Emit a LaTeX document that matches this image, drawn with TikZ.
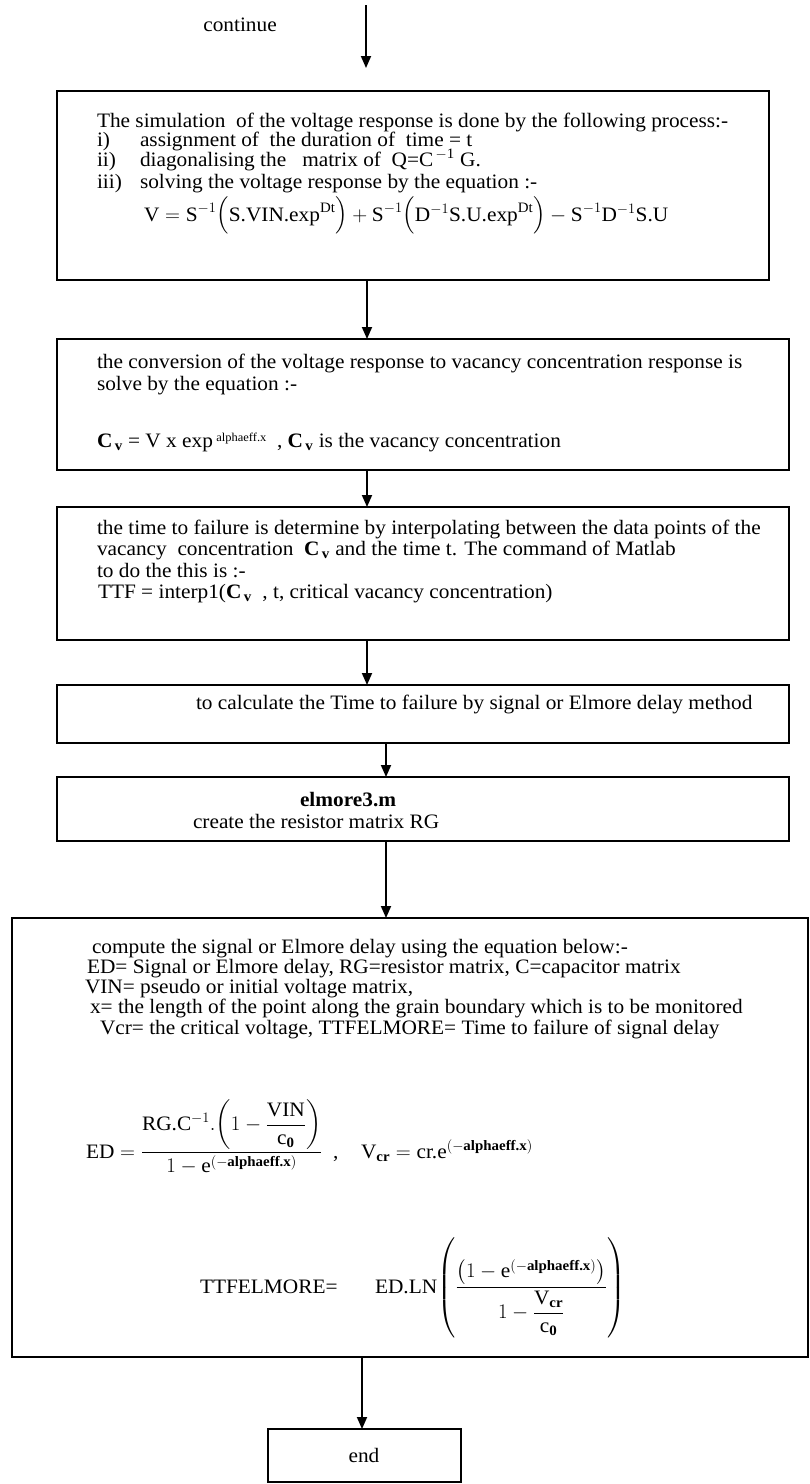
\documentclass[tikz,border=0pt]{standalone}
\usepackage{amsmath}
\usepackage{fontspec}
\setmainfont{Liberation Serif}[FakeStretch=1.04]
\usetikzlibrary{arrows.meta}
\newcommand{\tx}[1]{\text{#1}}
\newcommand{\bx}[1]{\text{\bfseries #1}}
\newcommand{\Cv}{\textbf{C}\textsubscript{\,\textbf{v}}}
\begin{document}
\fontsize{20.5}{22}\selectfont
\begin{tikzpicture}[x=1pt,y=-1pt,
  every node/.style={inner sep=0pt, outer sep=0pt},
  box/.style={draw, line width=2.2pt, anchor=north west},
  txt/.style={anchor=base west, font=\fontsize{20.5}{22}\selectfont},
  eqn/.style={anchor=base west, font=\fontsize{20.5}{22}\selectfont},
  flow/.style={line width=1.8pt, -{Triangle[length=12pt,width=10pt]}}]
\fill[white] (0,0) rectangle (809,1484);
\useasboundingbox (0,0) rectangle (809,1484);

% entry
\node[txt, anchor=base] (cont) at (240,31) {continue};
\coordinate (inTop) at (366,5);
\coordinate (inEnd) at (366,68);
\draw[flow] (inTop) -- (inEnd);

% process boxes
\node[box, minimum width=712pt, minimum height=189pt] (b1) at (57,91) {};
\node[box, minimum width=732pt, minimum height=131pt] (b2) at (57,339) {};
\node[box, minimum width=732pt, minimum height=133pt] (b3) at (57,507) {};
\node[box, minimum width=732pt, minimum height=58pt] (b4) at (57,685) {};
\node[box, minimum width=732pt, minimum height=64pt] (b5) at (57,777) {};
\node[box, minimum width=796pt, minimum height=439pt] (b6) at (12,918) {};
\node[box, minimum width=193pt, minimum height=53pt] (b7) at (268,1429) {};

% box 1: simulation
\node[txt] (s0) at (97,127) {The simulation\ \ of the voltage response is done by the following process:-};
\node[txt] (s1n) at (97,146) {i)};
\node[txt] (s1) at (140,146) {assignment of\ \ the duration of\ \ time = t};
\node[txt] (s2n) at (97,166) {ii)};
\node[txt] (s2) at (140,166) {diagonalising the\ \ \ matrix of\ \ Q=C\textsuperscript{\,$-$1} G.};
\node[txt] (s3n) at (97,188) {iii)};
\node[txt] (s3) at (140,188) {solving the voltage response by the equation :-};
\node[eqn] (s4) at (144,221) {$\tx{V} = \tx{S}^{-1}\Bigl(\tx{S.VIN.exp}^{\tx{Dt}}\Bigr) + \tx{S}^{-1}\Bigl(\tx{D}^{-1}\tx{S.U.exp}^{\tx{Dt}}\Bigr) - \tx{S}^{-1}\tx{D}^{-1}\tx{S.U}$};

% box 2: conversion
\node[txt] (c1) at (97,368) {the conversion of the voltage response to vacancy concentration response is};
\node[txt] (c2) at (97,390) {solve by the equation :-};
\node[txt] (c3) at (97,447) {\Cv{} = V x exp\,\raisebox{6pt}{\fontsize{12}{12}\selectfont alphaeff.x}\ \ , \Cv{} is the vacancy concentration};

% box 3: time to failure
\node[txt] (t1) at (97,534) {the time to failure is determine by interpolating between the data points of the};
\node[txt] (t2) at (97,555) {vacancy\ \ concentration\ \ \Cv{} and the time t. The command of Matlab};
\node[txt] (t3) at (97,577) {to do the this is :-};
\node[txt] (t4) at (98,598) {TTF = interp1(\Cv{}\ \ , t, critical vacancy concentration)};

% box 4
\node[txt] (m1) at (196,709) {to calculate the Time to failure by signal or Elmore delay method};

% box 5
\node[txt] (e1) at (300,806) {\textbf{elmore3.m}};
\node[txt] (e2) at (193,828) {create the resistor matrix RG};

% box 6: Elmore delay
\node[txt] (d1) at (92,953) {compute the signal or Elmore delay using the equation below:-};
\node[txt] (d2) at (87,973) {ED= Signal or Elmore delay, RG=resistor matrix, C=capacitor matrix};
\node[txt] (d3) at (85,993) {VIN= pseudo or initial voltage matrix,};
\node[txt] (d4) at (90,1013) {x= the length of the point along the grain boundary which is to be monitored};
\node[txt] (d5) at (100,1034) {Vcr= the critical voltage, TTFELMORE= Time to failure of signal delay};

\node[eqn] (q1) at (86,1158) {$\tx{ED} = \dfrac{\tx{RG.C}^{-1}.\!\left(1 - \dfrac{\tx{VIN}}{\tx{c}_{\bx{0}}}\right)}{1 - \tx{e}^{\left(-\bx{alphaeff.x}\right)}}$\ \ ,};
\node[eqn] (q2) at (361,1158) {$\tx{V}_{\bx{cr}} = \tx{cr.e}^{\left(-\bx{alphaeff.x}\right)}$};

\node[txt] (q3) at (200,1293) {TTFELMORE=};
\node[eqn] (q4) at (375,1293) {$\tx{ED.LN}\!\left(\dfrac{\left(1 - \tx{e}^{(-\bx{alphaeff.x})}\right)}{1 - \dfrac{\tx{V}_{\bx{cr}}}{\tx{c}_{\bx{0}}}}\right)$};

% end
\node[txt, anchor=base] (fin) at (364,1462) {end};

% connectors
\coordinate (x1) at (367,0);
\coordinate (x4) at (386,0);
\coordinate (x6) at (362,0);
\draw[flow] (x1 |- b1.south) -- (x1 |- b2.north);
\draw[flow] (x1 |- b2.south) -- (x1 |- b3.north);
\draw[flow] (x1 |- b3.south) -- (x1 |- b4.north);
\draw[flow] (x4 |- b4.south) -- (x4 |- b5.north);
\draw[flow] (x4 |- b5.south) -- (x4 |- b6.north);
\draw[flow] (x6 |- b6.south) -- (x6 |- b7.north);
\end{tikzpicture}
\end{document}
